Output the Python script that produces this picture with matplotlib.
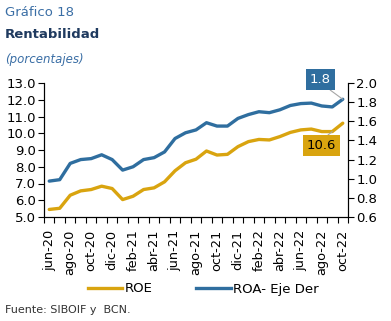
import numpy as np
import matplotlib
matplotlib.use("Agg")
import matplotlib.pyplot as plt
from matplotlib.ticker import FixedLocator, NullFormatter

# meses jun-20 .. oct-22
meses = ["jun-20", "jul-20", "ago-20", "sep-20", "oct-20", "nov-20", "dic-20",
         "ene-21", "feb-21", "mar-21", "abr-21", "may-21", "jun-21", "jul-21",
         "ago-21", "sep-21", "oct-21", "nov-21", "dic-21", "ene-22", "feb-22",
         "mar-22", "abr-22", "may-22", "jun-22", "jul-22", "ago-22", "sep-22",
         "oct-22"]

roe = [5.45, 5.52, 6.3, 6.56, 6.64, 6.84, 6.7, 6.04, 6.24, 6.64, 6.74, 7.1,
       7.76, 8.24, 8.45, 8.94, 8.7, 8.74, 9.2, 9.5, 9.63, 9.6, 9.8, 10.05,
       10.2, 10.25, 10.1, 10.1, 10.6]

roa = [0.975, 0.99, 1.16, 1.2, 1.21, 1.25, 1.2, 1.09, 1.125, 1.2, 1.22, 1.28,
       1.42, 1.48, 1.51, 1.585, 1.55, 1.55, 1.63, 1.67, 1.70, 1.69, 1.72,
       1.765, 1.785, 1.79, 1.76, 1.75, 1.83]

gold = "#D9A40F"
blue = "#2F6E9F"

x = np.arange(len(meses))

fig = plt.figure(figsize=(3.91, 3.21), dpi=100)
ax = fig.add_axes([44 / 391, 1 - 217 / 321, (348 - 44) / 391, (217 - 83) / 321])
ax2 = ax.twinx()

ax.plot(x, roe, color=gold, lw=2.4, solid_capstyle="round")
ax2.plot(x, roa, color=blue, lw=2.4, solid_capstyle="round")

ax.set_xlim(-0.5, len(meses) - 0.5)
ax.set_ylim(5, 13)
ax.set_yticks(np.arange(5, 13.1, 1))
ax.set_yticklabels([f"{v:.1f}" for v in np.arange(5, 13.1, 1)], fontsize=9.5)
ax2.set_ylim(0.6, 2.0)
ax2.set_yticks(np.arange(0.6, 2.01, 0.2))
ax2.set_yticklabels([f"{v:.1f}" for v in np.arange(0.6, 2.01, 0.2)], fontsize=9.5)

ax.set_xticks(x[::2])
ax.set_xticklabels(meses[::2], rotation=90, fontsize=9.3)
ax.tick_params(axis="x", which="major", length=0, pad=9)
ax.xaxis.set_minor_locator(FixedLocator(np.arange(-0.5, len(meses), 1)))
ax.xaxis.set_minor_formatter(NullFormatter())
ax.tick_params(axis="x", which="minor", length=4, width=0.8, direction="out")
ax.tick_params(axis="y", length=4, width=0.8, pad=2)
ax2.tick_params(axis="y", length=4, width=0.8, pad=2)

for a in (ax, ax2):
    a.spines["top"].set_visible(False)
    for s in ("left", "right", "bottom"):
        a.spines[s].set_linewidth(0.8)

# etiquetas del ultimo dato
ax2.annotate(f"{roa[-1]:.1f}", xy=(x[-1], roa[-1]), xycoords="data",
             xytext=(320.5, 321 - 79.5), textcoords="figure pixels",
             ha="center", va="center", fontsize=9.5, color="white",
             bbox=dict(boxstyle="square,pad=0.3", fc=blue, ec="none"),
             arrowprops=dict(arrowstyle="-", color="#A6A6A6", lw=0.8,
                             shrinkA=0, shrinkB=0,
                             relpos=(0.7, 0.0)))
ax.annotate(f"{roe[-1]:.1f}", xy=(x[-2], roe[-2]), xycoords="data",
            xytext=(321.5, 321 - 145.5), textcoords="figure pixels",
            ha="center", va="center", fontsize=9.5, color="black",
            bbox=dict(boxstyle="square,pad=0.3", fc=gold, ec="none"),
            arrowprops=dict(arrowstyle="-", color="#A6A6A6", lw=0.8,
                            shrinkA=0, shrinkB=0,
                            relpos=(0.55, 1.0)))

# titulos
fig.text(5 / 391, 1 - 13 / 321, "Gráfico 18", fontsize=9.5, color="#3A6EA5",
         va="center", ha="left")
fig.text(5 / 391, 1 - 35 / 321, "Rentabilidad", fontsize=9.5, color="#1F3A5F",
         fontweight="bold", va="center", ha="left")
fig.text(5 / 391, 1 - 59 / 321, "(porcentajes)", fontsize=8.5, color="#3A6EA5",
         style="italic", va="center", ha="left")
fig.text(5 / 391, 1 - 310 / 321, "Fuente: SIBOIF y  BCN.", fontsize=8,
         color="#333333", va="center", ha="left")

h1, = ax.plot([], [], color=gold, lw=2.4)
h2, = ax.plot([], [], color=blue, lw=2.4)
fig.legend([h1, h2], ["ROE", "ROA- Eje Der"], loc="center",
           bbox_to_anchor=(0.52, 1 - 289 / 321), ncol=2, frameon=False,
           fontsize=9.5, handlelength=2.6, handletextpad=0.2,
           columnspacing=3.3)

fig.savefig("out.png", dpi=100)
